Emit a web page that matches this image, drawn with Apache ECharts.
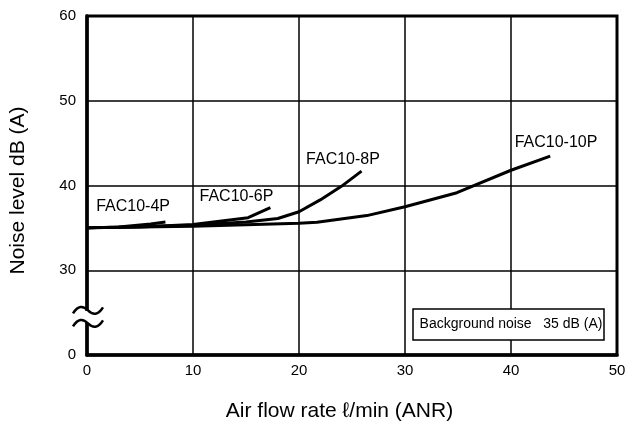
<!DOCTYPE html>
<html>
<head>
<meta charset="utf-8">
<script src="https://cdn.jsdelivr.net/npm/echarts@6/dist/echarts.min.js"></script>
<style>html,body{margin:0;padding:0;background:#fff}#c{width:625px;height:423px}</style>
</head>
<body>
<div id="c"></div>
<script>
// Data (air flow rate l/min, noise level dB(A))
var seriesNames = ['FAC10-4P', 'FAC10-6P', 'FAC10-8P', 'FAC10-10P'];
var fac4P = [[0, 35], [3, 35.1], [6, 35.45], [7.4, 35.7]];
var fac6P = [[0, 35], [5, 35.1], [10, 35.4], [15.2, 36.2], [17.3, 37.4]];
var fac8P = [[0, 35], [10, 35.3], [15, 35.7], [18, 36.1], [20, 36.9], [22, 38.3], [24, 39.9], [25.9, 41.7]];
var fac10P = [[0, 35], [10, 35.2], [20, 35.55], [21.7, 35.67], [26.4, 36.45], [30, 37.5], [34.9, 39.15], [40, 41.8], [43.7, 43.47]];
var labelPos = [[4.35, 37.55], [14.1, 38.7], [24.15, 43.05], [44.25, 45.1]];
var xTicks = [0, 10, 20, 30, 40, 50];
var yTicks = [0, 30, 40, 50, 60]; // 0 shown at the broken-axis base
var backgroundNote = 'Background noise   35 dB (A)';

var chart = echarts.init(document.getElementById('c'));
var font = 'Arial, "Liberation Sans", sans-serif';
var allData = [fac4P, fac6P, fac8P, fac10P];
var series = allData.map(function (d, i) {
  return {
    name: seriesNames[i], type: 'line', data: d, showSymbol: false, smooth: false,
    lineStyle: { color: '#000', width: 3 }, z: 5, silent: true,
    markPoint: {
      symbol: 'circle', symbolSize: 0, silent: true,
      data: [{ coord: labelPos[i], value: seriesNames[i] }],
      label: { show: true, position: 'inside', formatter: seriesNames[i], color: '#000', fontSize: 16, fontFamily: font }
    }
  };
});
chart.setOption({
  animation: false,
  grid: { left: 87, right: 8, top: 16, bottom: 68, show: true, borderColor: '#000', borderWidth: 3,
    containLabel: false, outerBoundsMode: 'none' },
  xAxis: {
    type: 'value', min: 0, max: 50, interval: 10,
    name: 'Air flow rate ℓ/min (ANR)', nameLocation: 'middle', nameGap: 46,
    nameTextStyle: { fontSize: 21, color: '#000', fontFamily: font, padding: [0, 25, 0, 0] },
    axisLine: { show: true, lineStyle: { color: '#000', width: 3.5 } },
    axisTick: { show: false },
    axisLabel: { color: '#000', fontSize: 15, fontFamily: font, margin: 8,
      formatter: function (v) { return xTicks.indexOf(v) >= 0 ? String(v) : ''; } },
    splitLine: { show: true, lineStyle: { color: '#000', width: 1.5 } }
  },
  yAxis: {
    type: 'value', min: 20, max: 60, interval: 10,
    name: 'Noise level dB (A)', nameLocation: 'middle', nameGap: 58,
    nameTextStyle: { fontSize: 21, color: '#000', fontFamily: font, padding: [0, 10, 0, 0] },
    axisLine: { show: true, lineStyle: { color: '#000', width: 3.5 } },
    axisTick: { show: false },
    axisLabel: { color: '#000', fontSize: 15, fontFamily: font, margin: 11,
      formatter: function (v) { return v === 20 ? String(yTicks[0]) : String(v); } },
    splitLine: { show: true, lineStyle: { color: '#000', width: 1.5 } }
  },
  series: series
});

// decorations: axis break and background-noise note
var rect = chart.getModel().getComponent('grid').coordinateSystem.getRect();
var breakY = chart.convertToPixel({ gridIndex: 0 }, [0, 24.5])[1];
var ax = rect.x + 1;
function waveAt(cy) {
  return [
    { type: 'bezierCurve', shape: { x1: ax - 15, y1: cy + 3, cpx1: ax - 10, cpy1: cy - 5, cpx2: ax - 5, cpy2: cy - 5, x2: ax, y2: cy },
      style: { fill: null, stroke: '#000', lineWidth: 2.5 }, z: 101 },
    { type: 'bezierCurve', shape: { x1: ax, y1: cy, cpx1: ax + 5, cpy1: cy + 5, cpx2: ax + 10, cpy2: cy + 5, x2: ax + 15, y2: cy - 3 },
      style: { fill: null, stroke: '#000', lineWidth: 2.5 }, z: 101 }
  ];
}
var gfx = [
  { type: 'rect', shape: { x: ax - 4, y: breakY - 6, width: 8, height: 12 }, style: { fill: '#fff' }, z: 100 }
].concat(waveAt(breakY - 6.5), waveAt(breakY + 6.5), [
  { type: 'rect', shape: { x: rect.x + rect.width - 204, y: rect.y + rect.height - 46, width: 191, height: 31 },
    style: { fill: '#fff', stroke: '#000', lineWidth: 1.5 }, z: 100 },
  { type: 'text', x: rect.x + rect.width - 106, y: rect.y + rect.height - 30.5,
    style: { text: backgroundNote, fontSize: 14, fontFamily: font, fill: '#000', align: 'center', verticalAlign: 'middle' }, z: 101 }
]);
chart.setOption({ graphic: gfx });
</script>
</body>
</html>
